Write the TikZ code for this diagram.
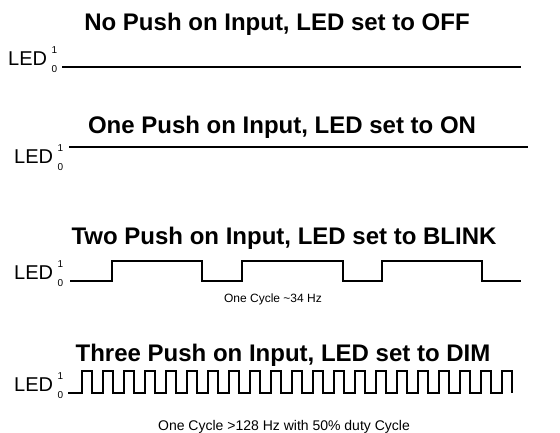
\documentclass[tikz,border=0pt]{standalone}
\usepackage{fontspec}
\setmainfont{Liberation Sans}
\usetikzlibrary{positioning}
\tikzset{
    % Headings and labels
    heading/.style={ font=\bfseries\fontsize{24}{28}\selectfont, anchor=base, inner sep=0 },
    ledtext/.style={ font=\fontsize{20}{24}\selectfont, anchor=base west, inner sep=0 },
    levelmark/.style={ font=\fontsize{10}{11}\selectfont, inner sep=0 },
    cyclenote/.style={ font=\fontsize{12}{14}\selectfont, anchor=base, inner sep=0 },
    % Signal trace
    signal/.style={ line width=1.6pt, line join=miter },
    % LED axis label with its 1/0 levels
    ledtag/.pic={
        \node[ledtext] (-txt) at (0,0) {LED};
        \node[levelmark, right=4pt of -txt.north east, anchor=north west, yshift=5pt] (-one) {1};
        \node[levelmark, right=4pt of -txt.base east, anchor=north west, yshift=0pt] (-zero) {0};
    },
}

\begin{document}
\begin{tikzpicture}[x=1pt, y=-1pt]
    \useasboundingbox (0,0) rectangle (560,432);

    % No push: OFF
    \node[heading] (title-off) at (277,30) {No Push on Input, LED set to OFF};
    \pic (led-off) at (8,65) {ledtag};
    \coordinate (off-start) at (62,67);
    \coordinate (off-end) at (521,67);
    \draw[signal] (off-start) -- (off-end);

    % One push: ON
    \node[heading] (title-on) at (282,133) {One Push on Input, LED set to ON};
    \pic (led-on) at (14,163) {ledtag};
    \coordinate (on-start) at (69,147);
    \coordinate (on-end) at (528,147);
    \draw[signal] (on-start) -- (on-end);

    % Two push: BLINK
    \node[heading] (title-blink) at (284,244) {Two Push on Input, LED set to BLINK};
    \pic (led-blink) at (14,279) {ledtag};
    \coordinate (blink-start) at (70,281);
    \draw[signal] (blink-start) -- (112,281) -- (112,261) -- (202,261) -- (202,281)
        -- (242,281) -- (242,261) -- (343,261) -- (343,281)
        -- (382,281) -- (382,261) -- (482,261) -- (482,281) -- (521,281);
    \node[cyclenote] (note-blink) at (273,302) {One Cycle \textasciitilde34 Hz};

    % Three push: DIM
    \node[heading] (title-dim) at (283,361) {Three Push on Input, LED set to DIM};
    \pic (led-dim) at (14,391) {ledtag};
    \coordinate (dim-start) at (68,393);
    \draw[signal] (dim-start) -- ++(14,0)
        \foreach \k in {1,...,20} { -- ++(0,-22) -- ++(10,0) -- ++(0,22) -- ++(11,0) }
        -- ++(0,-22) -- ++(10,0) -- ++(0,22);
    \node[cyclenote, font=\fontsize{14}{16}\selectfont] (note-dim) at (284,430) {One Cycle >128 Hz with 50\% duty Cycle};
\end{tikzpicture}
\end{document}
